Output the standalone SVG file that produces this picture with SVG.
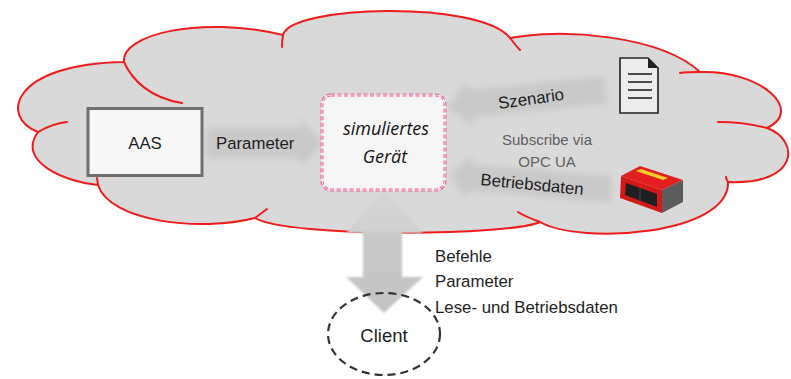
<svg xmlns="http://www.w3.org/2000/svg" width="791" height="379" viewBox="0 0 791 379">
  <style>
    .cloud-line { fill: none; stroke: #ee1c1c; stroke-width: 2; stroke-linecap: round; }
    .lbl { font-family: "Liberation Sans", Arial, sans-serif; font-size: 16.8px; fill: #1e1e1e; }
    .sub { font-family: "Liberation Sans", Arial, sans-serif; font-size: 15px; fill: #606060; text-anchor: middle; }
    .dev { font-family: "Open Sans", "DejaVu Sans", sans-serif; font-style: italic; font-size: 18px; fill: #151515; text-anchor: middle; }
    .flow { fill: #c9c9c9; }
    .doc-line { stroke: #222; stroke-width: 1.6; }
  </style>
  <defs>
    <filter id="soft" x="-20%" y="-40%" width="140%" height="180%">
      <feGaussianBlur stdDeviation="3"/>
    </filter>
    <filter id="soft1" x="-10%" y="-10%" width="120%" height="120%">
      <feGaussianBlur stdDeviation="0.8"/>
    </filter>
    <linearGradient id="vflow" x1="0" y1="190" x2="0" y2="313" gradientUnits="userSpaceOnUse">
      <stop offset="0" stop-color="#d6d6d6"/>
      <stop offset="0.33" stop-color="#d0d0d0"/>
      <stop offset="0.36" stop-color="#c8c8c8"/>
      <stop offset="1" stop-color="#c4c4c4"/>
    </linearGradient>
  </defs>

  <rect width="791" height="379" fill="#ffffff"/>

  <!-- cloud -->
  <g id="cloud">
    <path class="cloud-line" style="fill:#d9d9d9"
      d="M98,185 C66,182 16,162 38,132 C0,118 10,64 124,62 C120,35 200,15 283,35 C290,5 480,0 510,38 C560,28 660,35 700,72 C760,70 805,110 767,128 C800,140 800,185 728,182 C730,235 580,245 540,222 C510,236 290,238 255,218 C200,232 110,222 98,185 Z"/>
    <path class="cloud-line" d="M38,132 C48,126 58,123 67,122"/>
    <path class="cloud-line" d="M124,62 C132,80 150,98 182,103"/>
    <path class="cloud-line" d="M283,35 C282,40 282,44 282,47"/>
    <path class="cloud-line" d="M510,38 C514,43 517,47 520,50"/>
    <path class="cloud-line" d="M700,72 C693,72 686,72 680,73"/>
    <path class="cloud-line" d="M767,128 C752,124 735,122 718,122"/>
    <path class="cloud-line" d="M728,182 C727,180 726,179 726,177"/>
    <path class="cloud-line" d="M540,222 C532,219 524,216 518,212"/>
    <path class="cloud-line" d="M255,218 C259,215 263,212 267,209"/>
    <path class="cloud-line" d="M98,185 C98,182 97,180 97,178"/>
  </g>

  <!-- connectors -->
  <g id="connectors">
    <!-- AAS to device -->
    <path class="flow" filter="url(#soft)" d="M206,128 L300,128 L300,118 L323,143 L300,168 L300,158 L206,158 Z"/>
    <!-- scenario to device -->
    <path class="flow" filter="url(#soft)" transform="rotate(-6 527 98)" d="M447,98 L470,74 L470,84 L606,84 L606,112 L470,112 L470,122 Z"/>
    <!-- scanner to device -->
    <path class="flow" filter="url(#soft)" transform="rotate(5 530 182)" d="M448,182 L470,160 L470,169 L612,169 L612,196 L470,196 L470,205 Z"/>
    <!-- device to client, both ways -->
    <path fill="url(#vflow)" filter="url(#soft1)" d="M384,190 L423,233 L402,233 L402,277 L423,277 L384,313 L346,277 L363,277 L363,233 L346,233 Z"/>
  </g>

  <!-- asset administration shell -->
  <g id="aas">
    <rect x="88" y="108.5" width="114" height="67" fill="#f7f7f7" stroke="#6f6f6f" stroke-width="3"/>
    <text class="lbl" x="145" y="149" text-anchor="middle">AAS</text>
  </g>
  <text class="lbl" x="216" y="149">Parameter</text>

  <!-- simulated device -->
  <g id="sim-device">
    <rect x="322" y="95" width="123" height="95" rx="9" fill="#f6f6f6" stroke="#ef5a8c" stroke-width="3" stroke-dasharray="4 2.5"/>
    <rect x="322" y="95" width="123" height="95" rx="9" fill="none" stroke="#f6f6f6" stroke-width="0.9"/>
    <text class="dev" x="386" y="135">simuliertes</text>
    <text class="dev" x="385" y="163">Gerät</text>
  </g>

  <!-- scenario document -->
  <g id="scenario-doc">
    <path d="M620,58 L648,58 L658,68 L658,113 L620,113 Z" fill="#ececec" stroke="#222" stroke-width="1.6"/>
    <path d="M648,58 L658,68 L648,68 Z" fill="#222"/>
    <line class="doc-line" x1="628" y1="74" x2="652" y2="74"/>
    <line class="doc-line" x1="628" y1="82" x2="652" y2="82"/>
    <line class="doc-line" x1="628" y1="90" x2="652" y2="90"/>
    <line class="doc-line" x1="628" y1="98" x2="652" y2="98"/>
  </g>
  <text class="lbl" x="499" y="109" transform="rotate(-8 499 109)">Szenario</text>

  <text class="sub" x="547" y="145">Subscribe via</text>
  <text class="sub" x="547" y="167">OPC UA</text>
  <text class="lbl" x="480" y="185" transform="rotate(5.5 480 185)">Betriebsdaten</text>

  <!-- scanner device -->
  <g id="scanner">
    <polygon points="621,176 640,166 683,180 662,190" fill="#e3201f"/>
    <polygon points="636,171 641,169 668,178 663,180" fill="#f0cf2a"/>
    <polygon points="621,176 662,190 662,213 620,198" fill="#d51818"/>
    <polygon points="626,183 657,194 657,207 625,195" fill="#1f1f1f"/>
    <line x1="640" y1="188" x2="640" y2="201" stroke="#444" stroke-width="1.2"/>
    <polygon points="662,190 683,180 683,202 662,213" fill="#5c5c5c"/>
  </g>

  <!-- client -->
  <g id="client">
    <ellipse cx="384" cy="334" rx="56" ry="41" fill="none" stroke="#333" stroke-width="2.2" stroke-dasharray="8 5"/>
    <text class="lbl" x="384" y="342" text-anchor="middle" style="font-size:18.5px">Client</text>
  </g>

  <!-- client interface contents -->
  <text class="lbl" x="435" y="262">Befehle</text>
  <text class="lbl" x="435" y="287">Parameter</text>
  <text class="lbl" x="435" y="313">Lese- und Betriebsdaten</text>
</svg>
